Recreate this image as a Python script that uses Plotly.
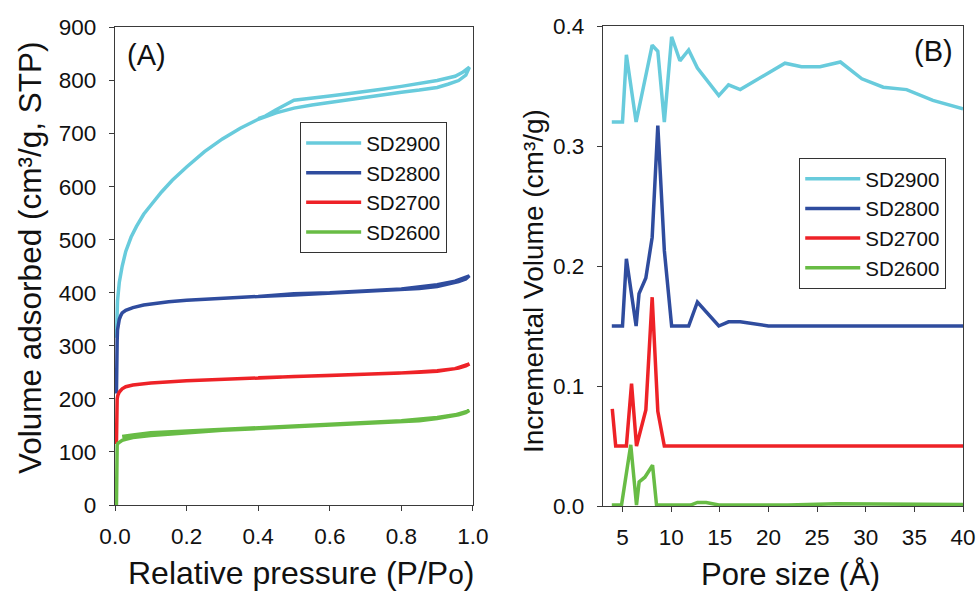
import plotly.graph_objects as go

# ---------------- Panel A: N2 isotherms (adsorption branch, then desorption branch) ----------------
sd2900_ads_p = [0.004, 0.005, 0.007, 0.012, 0.02, 0.03, 0.045, 0.06, 0.08, 0.1, 0.13, 0.16, 0.2, 0.25,
                0.3, 0.35, 0.4, 0.45, 0.5, 0.55, 0.6, 0.65, 0.7, 0.75, 0.8, 0.85, 0.9, 0.93, 0.96, 0.98, 0.99]
sd2900_ads_v = [315, 345, 385, 420, 450, 478, 505, 525, 548, 565, 590, 612, 637, 666,
                690, 710, 727, 739, 748, 754, 759, 764, 769, 774, 778, 782, 787, 793, 800, 810, 825]
sd2900_des_p = [0.97, 0.95, 0.9, 0.85, 0.8, 0.75, 0.7, 0.65, 0.6, 0.55, 0.5, 0.45, 0.42, 0.4]
sd2900_des_v = [815, 808, 800, 794, 789, 784, 779, 775, 771, 767, 763, 745, 733, 728]

sd2800_ads_p = [0.004, 0.004, 0.005, 0.006, 0.007, 0.009, 0.012, 0.016, 0.02, 0.03, 0.05, 0.08, 0.1,
                0.15, 0.2, 0.3, 0.4, 0.5, 0.6, 0.7, 0.8, 0.85, 0.9, 0.93, 0.96, 0.98, 0.99]
sd2800_ads_v = [210, 240, 280, 310, 330, 342, 350, 357, 362, 367, 372, 377, 379,
                383, 386, 390, 393, 396, 399, 402, 405, 408, 412, 416, 421, 426, 432]
sd2800_des_p = [0.95, 0.9, 0.8, 0.7, 0.6, 0.5, 0.45, 0.4]
sd2800_des_v = [422, 415, 407, 403, 400, 398, 395, 393]

sd2700_ads_p = [0.004, 0.004, 0.005, 0.006, 0.008, 0.012, 0.02, 0.03, 0.05, 0.1, 0.2, 0.3, 0.4,
                0.5, 0.6, 0.7, 0.8, 0.85, 0.9, 0.93, 0.96, 0.98, 0.99]
sd2700_ads_v = [115, 150, 185, 200, 207, 213, 219, 223, 226, 230, 234, 237, 240,
                242, 244, 246, 248, 250, 252, 255, 258, 262, 266]
sd2700_des_p = [0.95, 0.9, 0.8, 0.7, 0.6, 0.5, 0.4]
sd2700_des_v = [257, 253, 249, 247, 245, 243, 240]

sd2600_ads_p = [0.004, 0.004, 0.005, 0.006, 0.008, 0.012, 0.016, 0.02, 0.03, 0.05, 0.1, 0.2, 0.3,
                0.4, 0.5, 0.6, 0.7, 0.8, 0.85, 0.9, 0.93, 0.96, 0.98, 0.99]
sd2600_ads_v = [0, 60, 105, 113, 116, 118, 120, 122, 124, 127, 131, 136, 141,
                144, 147, 150, 153, 157, 159, 163, 166, 170, 174, 178]
sd2600_des_p = [0.95, 0.9, 0.8, 0.7, 0.6, 0.5, 0.4, 0.3, 0.2, 0.1, 0.05, 0.02]
sd2600_des_v = [170, 165, 159, 155, 152, 149, 146, 143, 140, 136, 132, 129]

# ---------------- Panel B: pore size distributions ----------------
sd2900_d = [3.9, 5.0, 5.4, 6.4, 8.05, 8.63, 9.3, 10.05, 10.9, 11.8, 12.7, 14.9, 15.9, 17.1,
            21.7, 23.4, 25.3, 27.4, 29.6, 31.8, 34.2, 36.9, 40.0]
sd2900_inc = [0.320, 0.320, 0.376, 0.320, 0.384, 0.379, 0.320, 0.391, 0.371, 0.380, 0.365, 0.342,
              0.351, 0.347, 0.369, 0.366, 0.366, 0.370, 0.356, 0.349, 0.347, 0.338, 0.331]

sd2800_d = [3.9, 5.0, 5.4, 6.4, 6.7, 7.4, 8.05, 8.63, 9.3, 10.05, 11.8, 12.7, 14.9, 15.9, 17.1, 20.0, 40.0]
sd2800_inc = [0.150, 0.150, 0.206, 0.150, 0.177, 0.190, 0.224, 0.317, 0.213, 0.150, 0.150, 0.170,
              0.150, 0.1535, 0.1535, 0.150, 0.150]

sd2700_d = [3.95, 4.3, 5.4, 5.93, 6.44, 7.4, 8.05, 8.63, 9.3, 40.0]
sd2700_inc = [0.081, 0.050, 0.050, 0.102, 0.050, 0.080, 0.174, 0.079, 0.050, 0.050]

sd2600_d = [3.9, 4.9, 5.85, 6.44, 6.71, 7.3, 8.09, 8.5, 12.0, 12.7, 13.6, 14.9, 22.0, 27.0, 40.0]
sd2600_inc = [0.0008, 0.0008, 0.051, 0.0008, 0.020, 0.024, 0.034, 0.0008, 0.0008, 0.003, 0.003,
              0.0008, 0.0008, 0.0018, 0.0012]

names = ["SD2900", "SD2800", "SD2700", "SD2600"]
colors = ["#68CBDC", "#2F4C9E", "#EE2227", "#68BC45"]

iso = [
    (sd2900_ads_p + sd2900_des_p, sd2900_ads_v + sd2900_des_v),
    (sd2800_ads_p + sd2800_des_p, sd2800_ads_v + sd2800_des_v),
    (sd2700_ads_p + sd2700_des_p, sd2700_ads_v + sd2700_des_v),
    (sd2600_ads_p + sd2600_des_p, sd2600_ads_v + sd2600_des_v),
]
psd = [(sd2900_d, sd2900_inc), (sd2800_d, sd2800_inc), (sd2700_d, sd2700_inc), (sd2600_d, sd2600_inc)]

FONT = "Liberation Sans, Arial, sans-serif"
TXT = "#111111"
LINE_W = 3.5

fig = go.Figure()
for name, color, (x, y) in zip(names, colors, iso):
    fig.add_trace(go.Scatter(x=x, y=y, mode="lines", name=name,
                             line=dict(color=color, width=LINE_W),
                             xaxis="x", yaxis="y", legend="legend"))
for name, color, (x, y) in zip(names, colors, psd):
    fig.add_trace(go.Scatter(x=x, y=y, mode="lines", name=name,
                             line=dict(color=color, width=LINE_W),
                             xaxis="x2", yaxis="y2", legend="legend2"))

axis_common = dict(showline=True, linecolor="#3a3a3a", linewidth=1.3, mirror=True,
                   showgrid=False, zeroline=False, ticks="outside", ticklen=5,
                   tickcolor="#3a3a3a", tickwidth=1.3,
                   tickfont=dict(family=FONT, size=22.5, color=TXT), automargin=False)

legend_common = dict(xanchor="left", yanchor="top", bgcolor="white", bordercolor="#333333",
                     borderwidth=1.2, font=dict(family=FONT, size=20.5, color=TXT),
                     tracegroupgap=0, itemwidth=55)

fig.update_layout(
    width=978, height=591,
    margin=dict(l=0, r=0, t=0, b=0),
    paper_bgcolor="white", plot_bgcolor="white",
    font=dict(family=FONT, color=TXT),
    xaxis=dict(domain=[0.1176, 0.4836], range=[0, 1], tickvals=[0, 0.2, 0.4, 0.6, 0.8, 1.0],
               tickformat=".1f", anchor="y", ticklabelstandoff=6, **axis_common),
    yaxis=dict(domain=[0.1455, 0.9535], range=[0, 900], dtick=100, anchor="x",
               ticklabelstandoff=8, **axis_common),
    xaxis2=dict(domain=[0.6166, 0.9847], range=[3, 40], tickvals=[5, 10, 15, 20, 25, 30, 35, 40],
                anchor="y2", ticklabelstandoff=6, **axis_common),
    yaxis2=dict(domain=[0.1438, 0.956], range=[0, 0.4], tickvals=[0, 0.1, 0.2, 0.3, 0.4],
                tickformat=".1f", anchor="x2", ticklabelstandoff=8, **axis_common),
    legend=dict(x=0.3067, y=0.7935, **legend_common),
    legend2=dict(x=0.817, y=0.733, **legend_common),
    showlegend=True,
)


def label(text, x, y, size, angle=0):
    return dict(text=text, x=x / 978, y=1 - y / 591, xref="paper", yref="paper",
                showarrow=False, font=dict(family=FONT, size=size, color=TXT),
                textangle=angle, xanchor="center", yanchor="middle")


annotations = [
    label("Relative pressure (P/P<span style='font-size:28px'>o</span>)", 301, 573, 32),
    label("Volume adsorbed (cm³/g, STP)", 30, 258, 31.5, -90),
    label("Pore size (Å)", 790, 574, 31),
    label("Incremental Volume (cm³/g)", 533, 281, 28, -90),
    label("(A)", 146, 55, 29),
    label("(B)", 933, 51, 29),
]
fig.update_layout(annotations=annotations)

fig.write_html("out.html")
